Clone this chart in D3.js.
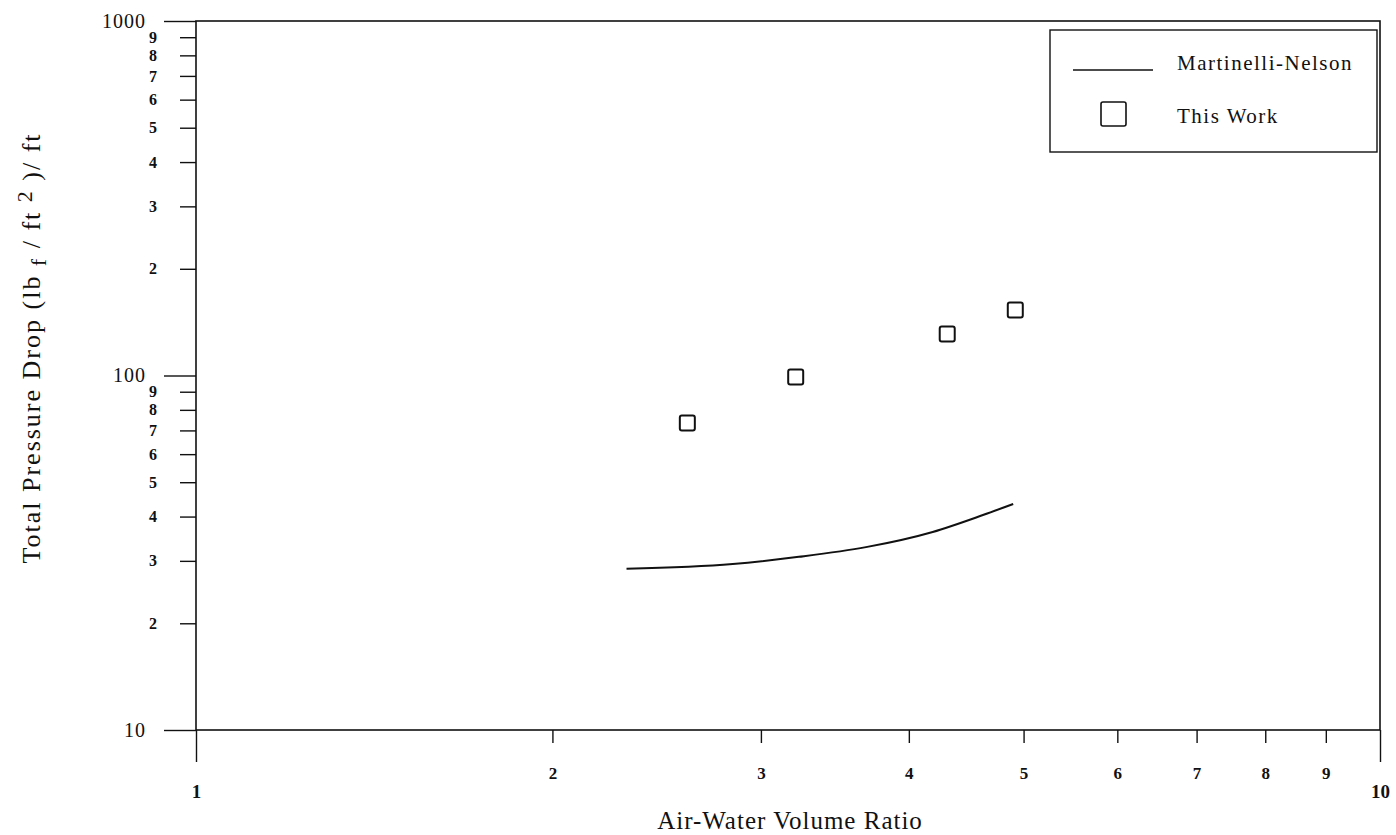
<!DOCTYPE html>
<html>
<head>
<meta charset="utf-8">
<script src="https://cdn.jsdelivr.net/npm/d3@7"></script>
<style>
  body { margin: 0; background: #fff; }
  text { font-family: "Liberation Serif", "Times New Roman", serif; fill: #111; }
</style>
</head>
<body>
<svg id="chart" width="1396" height="835"></svg>
<script>
// data
const modelX = [2.31, 2.84, 3.23, 3.68, 4.19, 4.62, 4.90];
const modelY = [28.5, 29.4, 30.8, 32.8, 36.2, 40.4, 43.4];
const workX = [2.60, 3.21, 4.31, 4.92];
const workY = [73.5, 99.1, 130.9, 153];

const yMajor = [10, 100, 1000];
const yMinor = [20, 30, 40, 50, 60, 70, 80, 90, 200, 300, 400, 500, 600, 700, 800, 900];
const xMajor = [1, 10];
const xMinor = [2, 3, 4, 5, 6, 7, 8, 9];

const legendLabels = ["Martinelli-Nelson", "This Work"];

const svg = d3.select("#chart"),
  margin = { top: 21, right: 16, bottom: 105, left: 196 };
const width = +svg.attr("width"), height = +svg.attr("height");
const chartWidth = width - margin.left - margin.right;
const chartHeight = height - margin.top - margin.bottom;

const g = svg.append("g").attr("transform", `translate(${margin.left},${margin.top})`);

const x = d3.scaleLog().domain([1, 10]).range([0, chartWidth]);
const y = d3.scaleLog().domain([10, 1000]).range([chartHeight, 0]);

const lead = (v) => String(v).charAt(0);

function styleAxis(a, size, bold, spacing) {
  a.select(".domain").remove();
  a.selectAll("line").attr("stroke", "#111").attr("stroke-width", 1.4);
  a.selectAll("text")
    .attr("font-size", size)
    .attr("font-weight", bold ? "bold" : "normal")
    .attr("font-family", "Liberation Serif")
    .attr("letter-spacing", spacing || 0)
    .attr("fill", "#111");
}

// frame
g.append("rect")
  .attr("width", chartWidth).attr("height", chartHeight)
  .attr("fill", "none").attr("stroke", "#111").attr("stroke-width", 1.6);

// y axis: minor ticks
g.append("g")
  .call(d3.axisLeft(y).tickValues(yMinor).tickSize(16).tickPadding(23).tickFormat(lead))
  .call((a) => styleAxis(a, 16, true));

// y axis: major ticks
g.append("g")
  .call(d3.axisLeft(y).tickValues(yMajor).tickSize(32).tickPadding(18).tickFormat((d) => d))
  .call((a) => styleAxis(a, 20, false, 1));

// x axis: minor ticks
g.append("g")
  .attr("transform", `translate(0,${chartHeight})`)
  .call(d3.axisBottom(x).tickValues(xMinor).tickSize(13).tickPadding(24).tickFormat((d) => d))
  .call((a) => styleAxis(a, 17, true));

// x axis: major ticks
g.append("g")
  .attr("transform", `translate(0,${chartHeight})`)
  .call(d3.axisBottom(x).tickValues(xMajor).tickSize(32).tickPadding(23).tickFormat((d) => d))
  .call((a) => styleAxis(a, 19, true));

// Martinelli-Nelson curve
const line = d3.line()
  .x((d) => x(d[0]))
  .y((d) => y(d[1]))
  .curve(d3.curveMonotoneX);

g.append("path")
  .datum(d3.zip(modelX, modelY))
  .attr("d", line)
  .attr("fill", "none")
  .attr("stroke", "#111")
  .attr("stroke-width", 2);

// experimental points
const sq = 15;
g.selectAll(".pt")
  .data(d3.zip(workX, workY))
  .join("rect")
  .attr("class", "pt")
  .attr("x", (d) => x(d[0]) - sq / 2)
  .attr("y", (d) => y(d[1]) - sq / 2)
  .attr("width", sq).attr("height", sq)
  .attr("rx", 2)
  .attr("fill", "#fff")
  .attr("stroke", "#111")
  .attr("stroke-width", 2);

// legend
const lg = svg.append("g").attr("transform", "translate(1050,30)");
lg.append("rect")
  .attr("width", 327).attr("height", 122)
  .attr("fill", "#fff").attr("stroke", "#111").attr("stroke-width", 1.4);
lg.append("line")
  .attr("x1", 23).attr("x2", 103).attr("y1", 40).attr("y2", 40)
  .attr("stroke", "#111").attr("stroke-width", 1.4);
lg.append("rect")
  .attr("x", 51).attr("y", 72).attr("width", 25).attr("height", 24).attr("rx", 2)
  .attr("fill", "#fff").attr("stroke", "#111").attr("stroke-width", 1.6);
lg.selectAll(".lt")
  .data(legendLabels)
  .join("text")
  .attr("class", "lt")
  .attr("x", 127)
  .attr("y", (d, i) => 40 + i * 53)
  .attr("font-size", 21)
  .attr("letter-spacing", 1.5)
  .text((d) => d);

// axis titles
svg.append("text")
  .attr("x", 790)
  .attr("y", 829)
  .attr("text-anchor", "middle")
  .attr("font-size", 25)
  .attr("letter-spacing", 1)
  .text("Air-Water Volume Ratio");

const yt = svg.append("text")
  .attr("transform", "translate(40,348) rotate(-90)")
  .attr("text-anchor", "middle")
  .attr("font-size", 26)
  .attr("letter-spacing", 2);
yt.append("tspan").text("Total Pressure Drop (lb ");
yt.append("tspan").attr("dy", 6).attr("font-size", 22).text("f");
yt.append("tspan").attr("dy", -6).text(" / ft ");
yt.append("tspan").attr("dy", -8).attr("font-size", 22).text("2");
yt.append("tspan").attr("dy", 8).text(" )/ ft");
</script>
</body>
</html>
